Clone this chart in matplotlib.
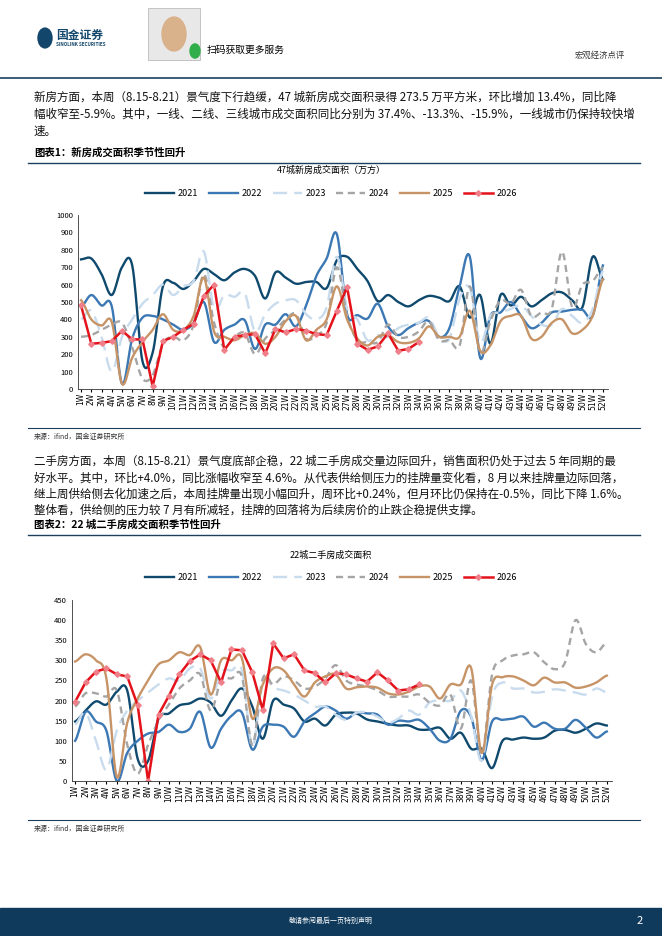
import numpy as np
import matplotlib
matplotlib.use("Agg")
import matplotlib.pyplot as plt
from matplotlib.lines import Line2D
from matplotlib.patches import Rectangle, Circle

plt.rcParams['font.family'] = ['Noto Sans CJK SC', 'DejaVu Sans']

weeks = [f"{i}W" for i in range(1, 53)]
years = ["2021", "2022", "2023", "2024", "2025", "2026"]

new_2021 = [745,750,660,540,700,710,160,210,590,610,575,620,690,660,625,670,690,650,520,670,640,605,615,615,580,740,760,690,620,505,540,500,475,510,535,525,505,590,410,540,260,540,480,530,475,510,550,555,510,470,760,630]
new_2022 = [470,540,480,475,30,290,410,420,400,370,340,380,500,270,340,370,395,230,370,370,430,360,480,650,750,890,430,425,405,490,360,310,350,380,390,300,350,590,760,180,420,440,500,420,350,380,440,445,455,455,420,710]
new_2023 = [400,450,300,100,300,400,490,540,600,540,590,620,790,460,540,530,550,330,430,490,510,510,430,400,470,760,460,400,280,310,300,350,370,380,410,300,290,520,580,270,420,440,460,480,420,370,370,460,420,380,460,680]
new_2024 = [300,310,340,370,380,240,60,80,260,300,280,370,660,380,240,300,320,200,290,340,400,430,290,310,380,700,420,280,270,270,370,300,300,330,390,280,280,250,590,210,390,510,490,570,420,440,460,790,470,600,620,700]
new_2025 = [510,400,365,385,30,180,270,340,430,340,340,420,640,330,300,280,310,320,260,300,390,420,280,340,400,590,400,290,250,300,310,270,265,290,360,300,300,300,450,220,250,390,420,420,290,300,380,400,320,340,420,630]
new_2026 = [480,260,265,275,335,285,285,15,275,300,340,375,535,600,225,300,310,315,205,345,325,345,335,315,310,450,585,260,225,245,320,220,230,270]

sec_2021 = [148,175,198,190,222,225,55,50,155,168,188,193,205,195,162,200,230,185,105,200,190,180,148,155,138,165,170,168,153,148,142,138,138,128,128,132,105,120,80,80,32,100,103,108,105,108,125,127,120,130,143,138]
sec_2022 = [100,172,148,125,0,70,100,118,122,140,122,130,172,83,130,162,170,78,135,140,135,110,148,168,185,175,155,170,168,165,140,150,148,152,130,100,105,175,158,52,148,152,155,160,135,145,130,130,152,132,108,123]
sec_2023 = [140,170,100,28,125,175,200,220,240,255,250,280,280,205,270,275,275,85,250,232,225,215,200,185,185,165,152,170,170,160,145,155,175,165,195,200,200,225,160,50,210,245,230,230,220,222,228,225,220,215,230,220]
sec_2024 = [185,218,218,210,225,90,18,90,150,190,230,250,265,175,250,255,260,90,255,240,260,250,230,235,255,288,250,240,235,225,210,210,210,215,195,188,215,130,250,65,265,300,312,315,320,295,278,295,400,340,320,345]
sec_2025 = [297,315,300,255,10,145,205,250,290,300,320,313,333,215,300,300,305,155,240,280,275,240,210,245,260,265,230,233,235,232,218,215,222,235,235,205,240,240,280,70,240,258,260,250,238,257,245,245,232,235,245,262]
sec_2026 = [197,245,272,280,265,260,188,0,165,212,265,298,315,300,245,327,325,270,177,342,305,315,275,268,245,268,265,255,247,270,250,225,228,240]

W, H = 662, 936
fig = plt.figure(figsize=(W/100, H/100), dpi=100)

def box(x0, y0, x1, y1):
    return [x0/W, 1-y1/H, (x1-x0)/W, (y1-y0)/H]

def txt(x, y, s, **kw):
    fig.text(x/W, 1-y/H, s, **kw)

def hline(y, x0=28, x1=640, c='#1b3f5c', lw=1.0):
    fig.add_artist(Line2D([x0/W, x1/W], [1-y/H, 1-y/H], color=c, lw=lw))

def smooth(y, n=12):
    y = np.asarray(y, float)
    x = np.arange(len(y))
    p = np.concatenate([[y[0]], y, [y[-1]]])
    xs, ys = [], []
    for i in range(len(y)-1):
        p0, p1, p2, p3 = p[i], p[i+1], p[i+2], p[i+3]
        t = np.linspace(0, 1, n, endpoint=False)
        ys.append(0.5*((2*p1) + (-p0+p2)*t + (2*p0-5*p1+4*p2-p3)*t**2 + (-p0+3*p1-3*p2+p3)*t**3))
        xs.append(x[i] + t)
    xs.append([x[-1]]); ys.append([y[-1]])
    return np.concatenate(xs), np.concatenate(ys)

styles = {
    "2021": dict(color='#0f4a6e', lw=1.7, ls='-'),
    "2022": dict(color='#3b78b4', lw=1.7, ls='-'),
    "2023": dict(color='#c9dcee', lw=1.7, ls=(0, (6, 3))),
    "2024": dict(color='#a5a5a5', lw=1.7, ls=(0, (3, 2))),
    "2025": dict(color='#c79467', lw=1.7, ls='-'),
}

def draw_chart(ax_box, series, ylim, yticks, title, title_y, leg_y):
    ax = fig.add_axes(box(*ax_box))
    for name, ser in zip(years[:5], series[:5]):
        xs, ys = smooth(ser)
        ax.plot(xs, ys, label=name, **styles[name])
    s26 = series[5]
    ax.plot(range(len(s26)), s26, color='#e3121b', lw=1.8, marker='D', ms=2.8,
            mfc='#f07f8a', mec='#f07f8a', label="2026")
    ax.set_xlim(-0.3, 51.5)
    ax.set_ylim(*ylim)
    ax.set_yticks(yticks)
    ax.set_xticks(range(52))
    ax.set_xticklabels(weeks, rotation=90, fontsize=5.5, family=['DejaVu Sans'])
    ax.tick_params(axis='y', labelsize=5.5, length=0)
    ax.tick_params(axis='x', length=2, pad=1)
    for s in ['top', 'right']:
        ax.spines[s].set_visible(False)
    ax.spines['left'].set_color('#333333'); ax.spines['bottom'].set_color('#333333')
    ax.spines['left'].set_linewidth(0.6); ax.spines['bottom'].set_linewidth(0.6)
    txt(331, title_y, title, fontsize=6.5, ha='center', va='center')
    handles, labels = ax.get_legend_handles_labels()
    fig.legend(handles, labels, loc='center', bbox_to_anchor=(331/W, 1-leg_y/H),
               ncol=6, frameon=False, fontsize=6.5, handlelength=3.2, columnspacing=1.2,
               handletextpad=0.4)
    return ax

# header
fig.add_artist(Circle((45/W, 1-38/H), 7/W, transform=fig.transFigure, color='#12466b'))
txt(56, 35, "国金证券", fontsize=8.5, weight='bold', color='#12466b', va='center')
txt(56, 44, "SINOLINK SECURITIES", fontsize=3.3, weight='bold', color='#12466b', va='center')
fig.add_artist(Rectangle((148/W, 1-60/H), 52/W, 52/H, transform=fig.transFigure,
                         facecolor='#e8e8e8', edgecolor='#b0b0b0', lw=0.5))
fig.add_artist(Circle((174/W, 1-34/H), 12/W, transform=fig.transFigure, color='#d9b28c'))
fig.add_artist(Circle((195/W, 1-51/H), 5/W, transform=fig.transFigure, color='#2fae4a'))
txt(207, 50, "扫码获取更多服务", fontsize=7, va='center')
txt(625, 55, "宏观经济点评", fontsize=6, ha='right', va='center', color='#333333')
hline(78, 0, 662, lw=1.2)

body = dict(fontsize=8.3, va='center', color='#111111')
txt(34, 97, "新房方面，本周（8.15-8.21）景气度下行趋缓，47 城新房成交面积录得 273.5 万平方米，环比增加 13.4%，同比降", **body)
txt(34, 114, "幅收窄至-5.9%。其中，一线、二线、三线城市成交面积同比分别为 37.4%、-13.3%、-15.9%，一线城市仍保持较快增", **body)
txt(34, 131, "速。", **body)
txt(34, 153, "图表1：新房成交面积季节性回升", fontsize=7.5, weight='bold', style='italic', va='center')
hline(163)

draw_chart((78, 215, 608, 389), [new_2021, new_2022, new_2023, new_2024, new_2025, new_2026],
           (0, 1000), range(0, 1001, 100), "47城新房成交面积（万方）", 170, 194)

hline(428, lw=0.8)
txt(34, 437, "来源：ifind，国金证券研究所", fontsize=5, va='center', color='#333333')
txt(34, 461, "二手房方面，本周（8.15-8.21）景气度底部企稳，22 城二手房成交量边际回升，销售面积仍处于过去 5 年同期的最", **body)
txt(34, 478, "好水平。其中，环比+4.0%，同比涨幅收窄至 4.6%。从代表供给侧压力的挂牌量变化看，8 月以来挂牌量边际回落，", **body)
txt(34, 494, "继上周供给侧去化加速之后，本周挂牌量出现小幅回升，周环比+0.24%，但月环比仍保持在-0.5%，同比下降 1.6%。", **body)
txt(34, 510, "整体看，供给侧的压力较 7 月有所减轻，挂牌的回落将为后续房价的止跌企稳提供支撑。", **body)
txt(34, 525, "图表2：22 城二手房成交面积季节性回升", fontsize=7.5, weight='bold', style='italic', va='center')
hline(535)

draw_chart((72, 600, 612, 781), [sec_2021, sec_2022, sec_2023, sec_2024, sec_2025, sec_2026],
           (0, 450), range(0, 451, 50), "22城二手房成交面积", 555, 578)

hline(820, lw=0.8)
txt(34, 829, "来源：ifind，国金证券研究所", fontsize=5, va='center', color='#333333')

# footer
fig.add_artist(Rectangle((0, 0), 1, 28/H, transform=fig.transFigure, color='#0f3a5c'))
txt(331, 921, "敬请参阅最后一页特别声明", fontsize=5, color='white', ha='center', va='center')
txt(640, 921, "2", fontsize=8, color='white', ha='center', va='center')

fig.savefig("out.png", dpi=100)
